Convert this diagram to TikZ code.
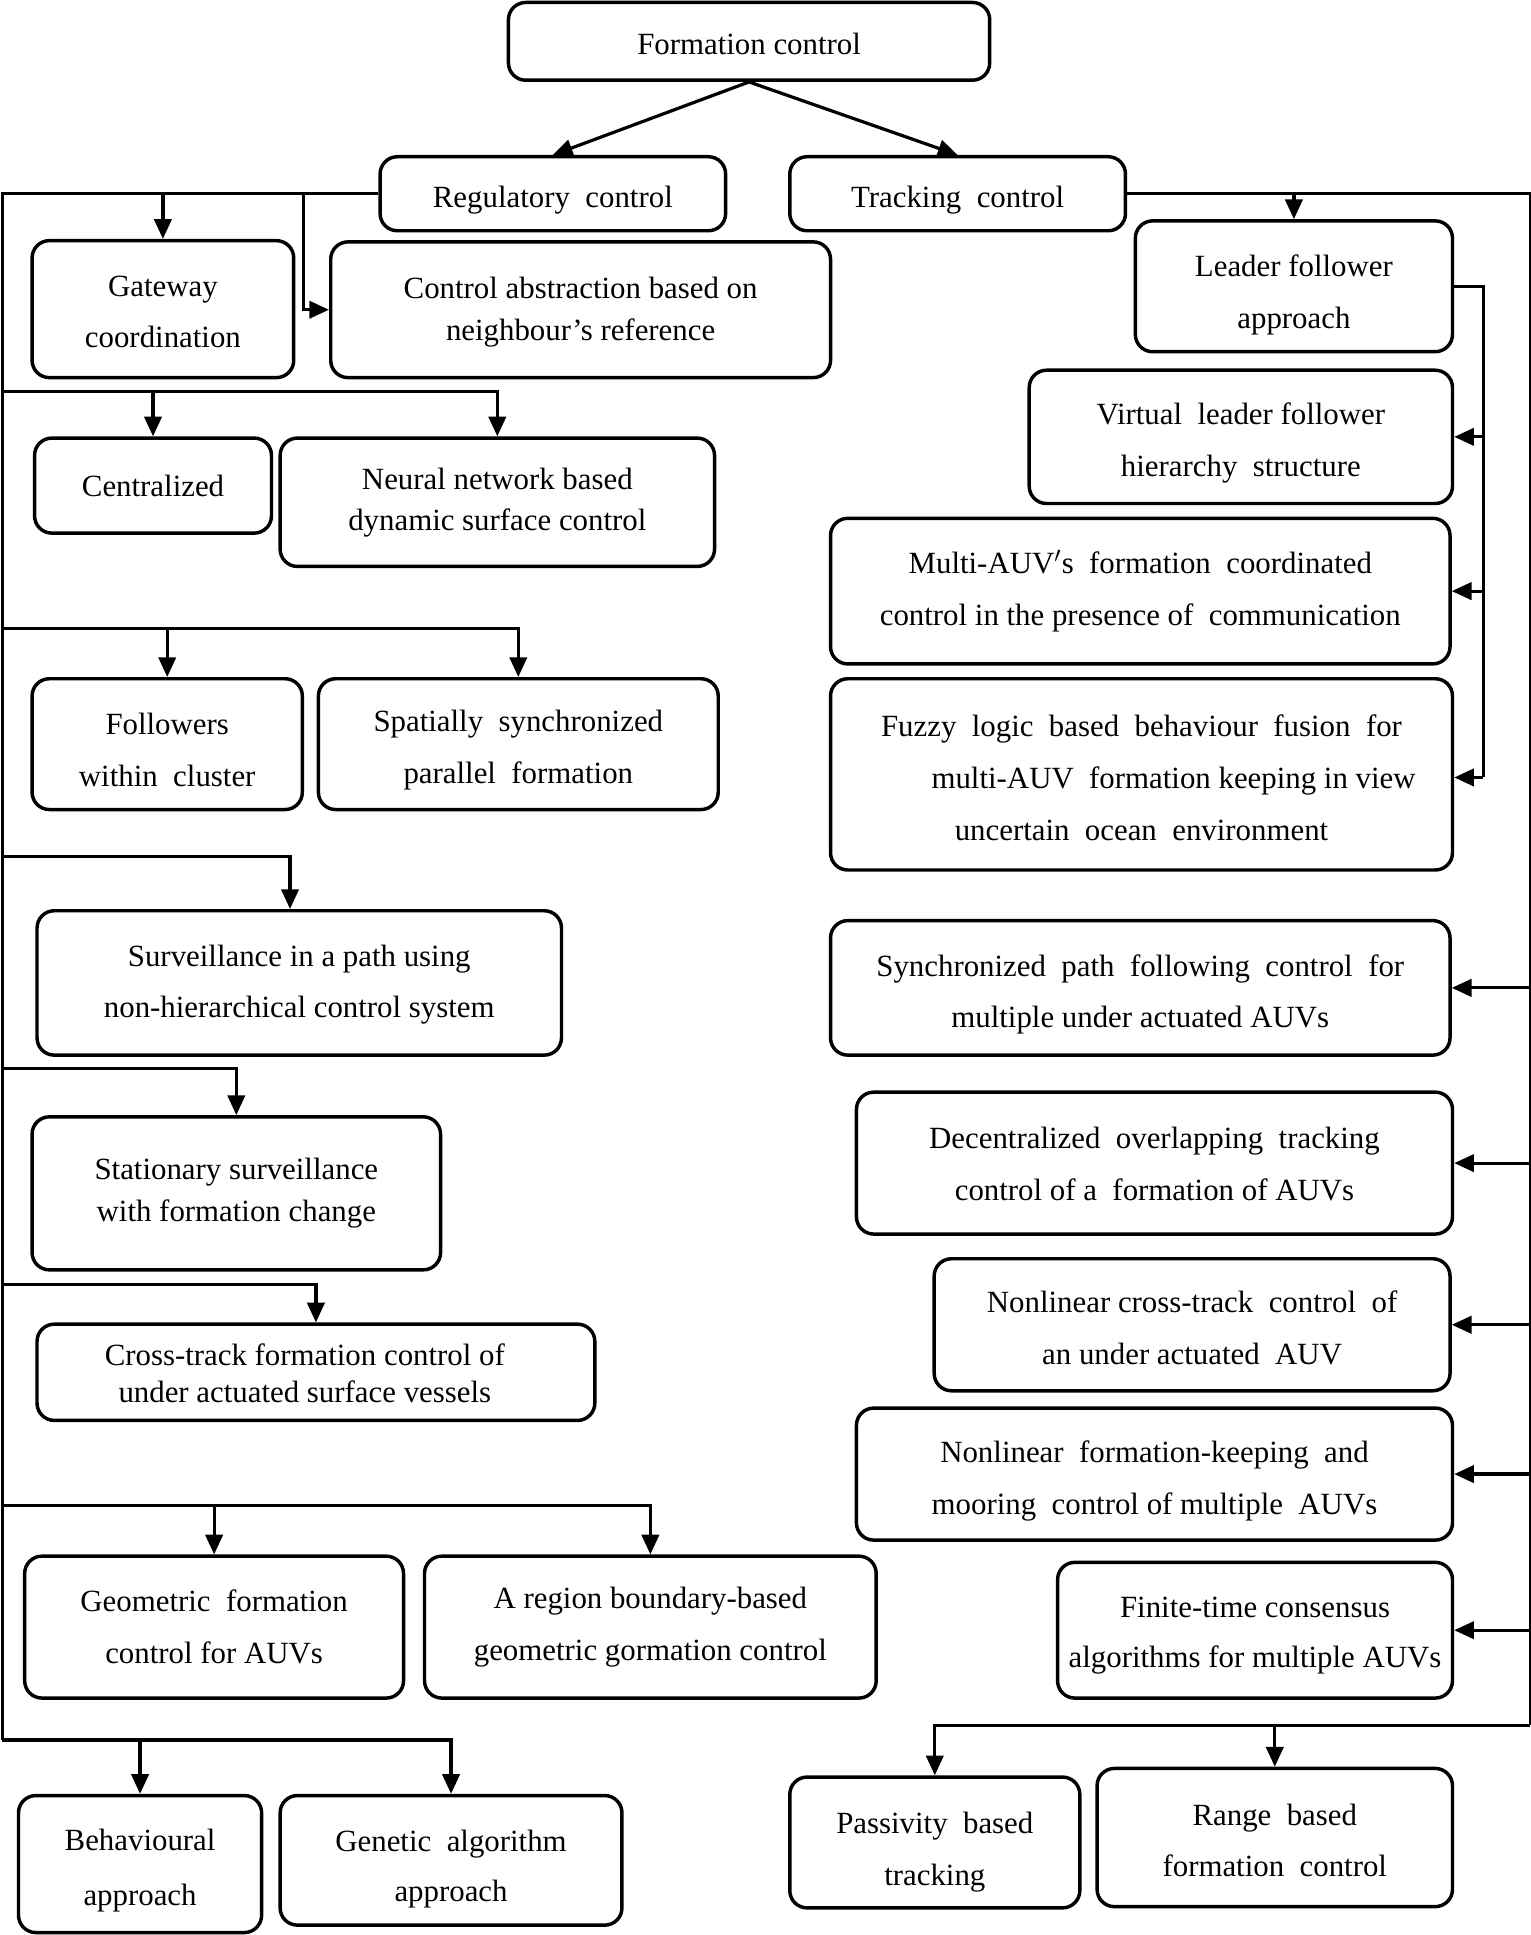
\documentclass[tikz,border=0pt]{standalone}
\usepackage{fontspec}
\setmainfont{Liberation Serif}
\usetikzlibrary{arrows.meta}
% #1 style, #2 name, #3 x1, #4 y1, #5 x2, #6 y2, #7 downward text shift (pt), #8 text
\newcommand{\mybox}[8][]{\node[box,#1,minimum width={(#5-#3)*0.5pt},minimum height={(#6-#4)*0.5pt}] (#2) at ({(#3+#5)/2},{(#4+#6)/2}) {\rule{0pt}{\dimexpr 8.6pt+#7pt\relax}#8};}
\begin{document}
\begin{tikzpicture}[x=0.5pt,y=-0.5pt,
  box/.style={draw, line width=1.4pt, rounded corners=7pt, align=center, inner sep=0pt, font=\fontsize{12.5pt}{21pt}\selectfont},
  ls/.style={font=\fontsize{12.5pt}{#1pt}\selectfont},
  ln/.style={line width=1.3pt},
  arr/.style={line width=1.3pt, -{Triangle[length=8pt,width=7pt]}},
]
\useasboundingbox (0,0) rectangle (1240,1568);
% top
\mybox{fc}{412}{2}{802}{65}{2}{Formation control}
\mybox{reg}{308}{127}{588}{187}{5}{Regulatory\ \ control}
\mybox{trk}{640}{127}{912}{187}{5}{Tracking\ \ control}
% left column
\mybox{gw}{26}{195}{238}{306}{2}{Gateway\\coordination}
\mybox[ls=17]{ca}{268}{196}{673}{306}{2}{Control abstraction based on\\neighbour's reference}
\mybox{cen}{28}{355}{220}{432}{0}{Centralized}
\mybox[ls=16.5]{nn}{227}{355}{579}{459}{0}{Neural network based\\dynamic surface control}
\mybox{fw}{26}{550}{245}{656}{5}{Followers\\within\ \ cluster}
\mybox{sp}{258}{550}{582}{656}{5}{Spatially\ \ synchronized\\parallel\ \ formation}
\mybox{sv}{30}{738}{455}{855}{1.5}{Surveillance in a path using\\non-hierarchical control system}
\mybox[ls=17]{st}{26}{905}{357}{1029}{0}{Stationary surveillance\\with formation change}
\mybox[ls=15]{ct}{30}{1073}{482}{1151}{1}{\hspace*{-9pt}Cross-track formation control of\\\hspace*{-9pt}under actuated surface vessels}
\mybox{ge}{20}{1261}{327}{1376}{0}{Geometric\ \ formation\\control for AUVs}
\mybox{ar}{344}{1261}{710}{1376}{0}{A region boundary-based\\geometric gormation control}
\mybox[ls=22.5]{bh}{15}{1455}{212}{1566}{5.5}{Behavioural\\approach}
\mybox[ls=20]{gn}{227}{1455}{504}{1560}{7}{Genetic\ \ algorithm\\approach}
% right column
\mybox{lf}{920}{179}{1177}{285}{7}{Leader follower\\approach}
\mybox{vl}{834}{300}{1177}{408}{5}{Virtual\ \ leader follower\\hierarchy\ \ structure}
\mybox{ma}{673}{420}{1175}{538}{0}{Multi-AUV$'$s\ \ formation\ \ coordinated\\control in the presence of\ \ communication}
\mybox{fz}{673}{550}{1177}{705}{3}{Fuzzy\ \ logic\ \ based\ \ behaviour\ \ fusion\ \ for\\\hspace*{26pt}multi-AUV\ \ formation keeping in view\\uncertain\ \ ocean\ \ environment}
\mybox{sy}{673}{746}{1175}{855}{5.5}{Synchronized\ \ path\ \ following\ \ control\ \ for\\multiple under actuated AUVs}
\mybox{dc}{694}{885}{1177}{1000}{1}{Decentralized\ \ overlapping\ \ tracking\\control of a\ \ formation of AUVs}
\mybox{nc}{757}{1020}{1175}{1127}{2.5}{Nonlinear cross-track\ \ control\ \ of\\an under actuated\ \ AUV}
\mybox{nf}{694}{1141}{1177}{1248}{6}{Nonlinear\ \ formation-keeping\ \ and\\mooring\ \ control of multiple\ \ AUVs}
\mybox[ls=20]{ft}{857}{1266}{1177}{1376}{4}{Finite-time consensus\\algorithms for multiple AUVs}
\mybox{ps}{640}{1440}{875}{1546}{8}{Passivity\ \ based\\tracking}
\mybox{rb}{889}{1433}{1177}{1545}{2.5}{Range\ \ based\\formation\ \ control}
% top arrows
\draw[arr] (fc.south) -- (reg.north);
\draw[arr] (fc.south) -- (trk.north);
% left bus
\coordinate (L0) at (2,157);
\coordinate (L0b) at (246,157);
\coordinate (L1) at (2,317);
\coordinate (L2) at (2,509);
\coordinate (L3) at (2,694);
\coordinate (L3b) at (235,694);
\coordinate (L4) at (2,866);
\coordinate (L5) at (2,1041);
\coordinate (L6) at (2,1220);
\coordinate (L9) at (2,1410);
\draw[ln] (reg.west) -- (L0) -- (L9);
\draw[arr] (gw.north |- L0) -- (gw.north);
\draw[arr] (L0b) |- (ca.west);
\draw[arr] (L1) -| (nn.north);
\draw[arr] (cen.north |- L1) -- (cen.north);
\draw[arr] (L2) -| (sp.north);
\draw[arr] (fw.north |- L2) -- (fw.north);
\draw[arr] (L3) -- (L3b) -- (L3b |- sv.north);
\draw[arr] (L4) -| (st.north);
\draw[arr] (L5) -| (ct.north);
\draw[arr] (L6) -| (ar.north);
\draw[arr] (ge.north |- L6) -- (ge.north);
\draw[arr] (L9) -| (gn.north);
\draw[arr] (bh.north |- L9) -- (bh.north);
% right bus
\coordinate (R0) at (1240,157);
\coordinate (R9) at (1240,1398);
\coordinate (Q0) at (1202,232);
\coordinate (Q9) at (1202,630);
\draw[ln] (trk.east) -- (R0) -- (R9);
\draw[arr] (lf.north |- R0) -- (lf.north);
\draw[ln] (lf.east) -- (Q0) -- (Q9);
\draw[arr] (Q0 |- vl.east) -- (vl.east);
\draw[arr] (Q0 |- ma.east) -- (ma.east);
\draw[arr] (Q9) -- (fz.east |- Q9);
\draw[arr] (R0 |- sy.east) -- (sy.east);
\draw[arr] (R0 |- dc.east) -- (dc.east);
\draw[arr] (R0 |- nc.east) -- (nc.east);
\draw[arr] (R0 |- nf.east) -- (nf.east);
\draw[arr] (R0 |- ft.east) -- (ft.east);
\draw[arr] (R9) -| (ps.north);
\draw[arr] (rb.north |- R9) -- (rb.north);
\end{tikzpicture}
\end{document}
